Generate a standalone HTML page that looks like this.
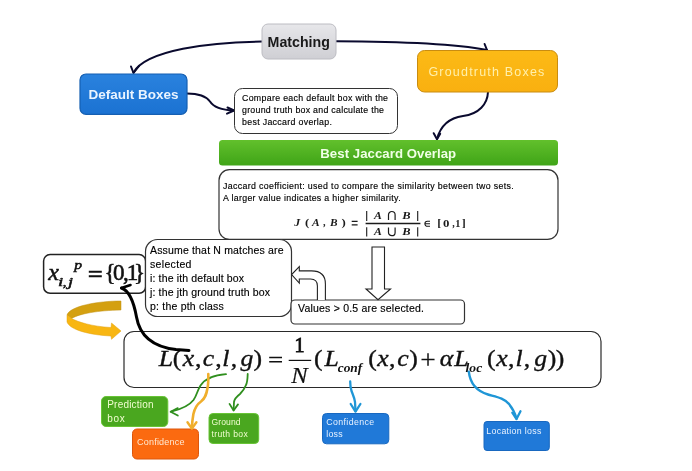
<!DOCTYPE html>
<html><head><meta charset="utf-8">
<style>
html,body{margin:0;padding:0;background:#fff;}
body{width:692px;height:471px;overflow:hidden;font-family:"Liberation Sans",sans-serif;}
svg{display:block}
text{font-family:"Liberation Sans",sans-serif;}
</style></head><body>
<svg width="692" height="471" viewBox="0 0 692 471">
<defs>
<linearGradient id="gGray" x1="0" y1="0" x2="0" y2="1"><stop offset="0" stop-color="#e7e7ea"/><stop offset="1" stop-color="#cfcfd4"/></linearGradient>
<linearGradient id="gGreen" x1="0" y1="0" x2="0" y2="1"><stop offset="0" stop-color="#62c02c"/><stop offset="1" stop-color="#3fa417"/></linearGradient>
<filter id="glow" x="-20%" y="-40%" width="140%" height="180%"><feGaussianBlur stdDeviation="3"/></filter>
<filter id="idf" x="0" y="0" width="692" height="471" filterUnits="userSpaceOnUse"><feOffset dx="0" dy="0"/></filter>
<linearGradient id="gBlue" x1="0" y1="0" x2="0" y2="1"><stop offset="0" stop-color="#2a82de"/><stop offset="1" stop-color="#1b72d2"/></linearGradient>
<linearGradient id="gOr" x1="0" y1="0" x2="0" y2="1"><stop offset="0" stop-color="#fcba16"/><stop offset="1" stop-color="#f9b010"/></linearGradient>
</defs>
<rect width="692" height="471" fill="#ffffff"/>
<g filter="url(#idf)">
<g fill="none" stroke="#0a0a2e" stroke-width="2" stroke-linecap="round" stroke-linejoin="round">
<path d="M262 41.600 C210 42 146 50 133.500 72.500"/>
<path d="M131 66.500 L133.500 73 L139 66"/>
<path d="M336 41.300 C400 41.500 455 44 487 50"/>
<path d="M484.600 44 L487 50"/>
<path d="M187 93.500 C200 93.500 206 96 210 101.500 C214 108 222 110 234 110.500"/>
<path d="M227.500 107.500 L234 110.500 L227 113.600"/>
<path d="M488 92 C487.500 104 479 114 463 116 C452 117.500 441 124 437 139"/>
<path d="M433.700 133.200 L437 139.200 L440.200 133.800"/>
</g>
<rect x="262" y="24" width="74" height="35" rx="6" fill="url(#gGray)" stroke="#bcbcc2" stroke-width="1"/>
<text x="298.700" y="46.500" font-size="14.200" font-weight="bold" text-anchor="middle" fill="#1a1a1a">Matching</text>
<rect x="80" y="74" width="107" height="40.300" rx="6" fill="url(#gBlue)" stroke="#155fb2" stroke-width="1.200"/>
<text x="133.500" y="99" font-size="13.500" font-weight="bold" text-anchor="middle" fill="#eaf4ff">Default Boxes</text>
<rect x="417.500" y="50.500" width="140" height="41.500" rx="7" fill="url(#gOr)" stroke="#c98c10" stroke-width="1"/>
<text x="487" y="76" font-size="12.500" text-anchor="middle" fill="#fff0ac" letter-spacing="1.2">Groudtruth Boxes</text>
<rect x="234.500" y="88.500" width="163" height="45" rx="8" fill="#fff" stroke="#333" stroke-width="1"/>
<text font-size="8.800" fill="#000" stroke="#000" stroke-width="0.150"><tspan x="242" y="101" textLength="146">Compare each default box with the</tspan><tspan x="242" y="113" textLength="142">ground truth box and calculate the</tspan><tspan x="242" y="125" textLength="90">best Jaccard overlap.</tspan></text>
<rect x="219" y="140" width="339" height="25.600" rx="3.500" fill="url(#gGreen)"/>
<text x="320.300" y="158" font-size="13.200" font-weight="bold" textLength="135.800" fill="#f0ffe6">Best Jaccard Overlap</text>
<rect x="219" y="169.700" width="339" height="69.700" rx="10.500" fill="#fff" stroke="#333" stroke-width="1.200"/>
<text font-size="8.800" fill="#000" stroke="#000" stroke-width="0.150"><tspan x="223" y="188.800" textLength="290.800">Jaccard coefficient: used to compare the similarity between two sets.</tspan><tspan x="223" y="200.900" textLength="177.600">A larger value indicates a higher similarity.</tspan></text>
<text transform="translate(294.20 226.30) scale(1.1273 1)" x="-0.00" y="0" style="font-family:Liberation Serif" font-size="10.5" font-style="italic" font-weight="bold" fill="#1a1a1a">J</text>
<text transform="translate(305.60 226.30) scale(1.2190 1)" x="-0.50" y="0" style="font-family:Liberation Serif" font-size="10.5" font-style="normal" font-weight="bold" fill="#1a1a1a">(</text>
<text transform="translate(311.40 226.30) scale(1.0947 1)" x="0.50" y="0" style="font-family:Liberation Serif" font-size="10.5" font-style="italic" font-weight="bold" fill="#1a1a1a">A</text>
<text transform="translate(323.10 226.30) scale(0.9882 1)" x="-0.12" y="0" style="font-family:Liberation Serif" font-size="10.5" font-style="normal" font-weight="bold" fill="#1a1a1a">,</text>
<text transform="translate(329.90 226.30) scale(1.0815 1)" x="0.12" y="0" style="font-family:Liberation Serif" font-size="10.5" font-style="italic" font-weight="bold" fill="#1a1a1a">B</text>
<text transform="translate(342.00 226.30) scale(1.2190 1)" x="-0.38" y="0" style="font-family:Liberation Serif" font-size="10.5" font-style="normal" font-weight="bold" fill="#1a1a1a">)</text>
<text transform="translate(373.50 219.40) scale(1.1228 1)" x="0.50" y="0" style="font-family:Liberation Serif" font-size="10.5" font-style="italic" font-weight="bold" fill="#1a1a1a">A</text>
<text transform="translate(402.10 219.40) scale(1.1852 1)" x="0.12" y="0" style="font-family:Liberation Serif" font-size="10.5" font-style="italic" font-weight="bold" fill="#1a1a1a">B</text>
<text transform="translate(373.50 235.30) scale(1.1228 1)" x="0.50" y="0" style="font-family:Liberation Serif" font-size="10.5" font-style="italic" font-weight="bold" fill="#1a1a1a">A</text>
<text transform="translate(402.10 235.30) scale(1.1852 1)" x="0.12" y="0" style="font-family:Liberation Serif" font-size="10.5" font-style="italic" font-weight="bold" fill="#1a1a1a">B</text>
<text transform="translate(438.20 226.00) scale(1.1789 1)" x="-0.75" y="0" style="font-family:Liberation Serif" font-size="10.5" font-style="normal" font-weight="bold" fill="#1a1a1a">[</text>
<text transform="translate(443.50 226.50) scale(1.2222 1)" x="-0.38" y="0" style="font-family:Liberation Serif" font-size="10.5" font-style="normal" font-weight="bold" fill="#1a1a1a">0</text>
<text transform="translate(452.30 226.50) scale(0.9412 1)" x="-0.12" y="0" style="font-family:Liberation Serif" font-size="10.5" font-style="normal" font-weight="bold" fill="#1a1a1a">,</text>
<text transform="translate(456.00 226.50) scale(0.9806 1)" x="-0.88" y="0" style="font-family:Liberation Serif" font-size="10.5" font-style="normal" font-weight="bold" fill="#1a1a1a">1</text>
<text transform="translate(462.30 226.00) scale(1.1368 1)" x="-0.38" y="0" style="font-family:Liberation Serif" font-size="10.5" font-style="normal" font-weight="bold" fill="#1a1a1a">]</text>
<g fill="none" stroke="#1a1a1a" stroke-width="1.300">
<path d="M351.700 221.400 H357.600 M351.700 224.900 H357.600"/>
<path d="M365.600 223.500 H420.400" stroke-width="1.300"/>
<path d="M366.700 211 V221 M417.700 211 V221 M366.700 227.300 V236.500 M417.700 227.300 V236.500" stroke-width="1.100"/>
<path d="M388.500 220 V214.800 A3.300 3.300 0 0 1 395.100 214.800 V220" stroke-width="1.200"/>
<path d="M388.500 227.500 V232.400 A3.300 3.300 0 0 0 395.100 232.400 V227.500" stroke-width="1.200"/>
<path d="M430 221.300 H427.400 A2.500 2.500 0 0 0 427.400 226.300 H430 M424.900 223.800 H430" stroke-width="1.100"/>
</g>
<rect x="43.600" y="254.600" width="102" height="38.700" rx="6.500" fill="#fff" stroke="#222" stroke-width="1.500"/>
<text transform="translate(47.90 280.10) scale(1.0286 1)" x="0.25" y="0" style="font-family:Liberation Serif" font-size="23.5" font-style="italic" font-weight="normal" fill="#111" stroke="#111" stroke-width="0.5">x</text>
<text transform="translate(58.90 285.90) scale(1.6444 1)" x="-0.62" y="0" style="font-family:Liberation Serif" font-size="11.5" font-style="italic" font-weight="normal" fill="#111" stroke="#111" stroke-width="0.45">i</text>
<text transform="translate(63.30 285.90) scale(1.3143 1)" x="-0.38" y="0" style="font-family:Liberation Serif" font-size="11.5" font-style="italic" font-weight="normal" fill="#111" stroke="#111" stroke-width="0.45">,</text>
<text transform="translate(66.10 285.90) scale(1.5758 1)" x="1.25" y="0" style="font-family:Liberation Serif" font-size="11.5" font-style="italic" font-weight="normal" fill="#111" stroke="#111" stroke-width="0.45">j</text>
<text transform="translate(73.50 269.00) scale(1.3667 1)" x="0.62" y="0" style="font-family:Liberation Serif" font-size="11.5" font-style="italic" font-weight="normal" fill="#111" stroke="#111" stroke-width="0.45">p</text>
<path d="M88.800 271.700 H101.800 M88.800 276.300 H101.800" stroke="#111" stroke-width="1.900" fill="none"/>
<text x="104.47" y="280.00" style="font-family:Liberation Serif" font-size="23" font-style="normal" font-weight="normal" fill="#111" stroke="#111" stroke-width="0.6">{</text>
<text x="113.12" y="280.00" style="font-family:Liberation Serif" font-size="23" font-style="normal" font-weight="normal" fill="#111" stroke="#111" stroke-width="0.6">0</text>
<text x="123.12" y="280.00" style="font-family:Liberation Serif" font-size="23" font-style="normal" font-weight="normal" fill="#111" stroke="#111" stroke-width="0.6">,</text>
<text x="126.80" y="280.00" style="font-family:Liberation Serif" font-size="23" font-style="normal" font-weight="normal" fill="#111" stroke="#111" stroke-width="0.6">1</text>
<text x="133.97" y="280.00" style="font-family:Liberation Serif" font-size="23" font-style="normal" font-weight="normal" fill="#111" stroke="#111" stroke-width="0.6">}</text>
<rect x="145.500" y="239.500" width="146" height="77" rx="12" fill="#fff" stroke="#333" stroke-width="1.200"/>
<text font-size="10.500" fill="#000" stroke="#000" stroke-width="0.150"><tspan x="150" y="254" textLength="133.600">Assume that N matches are</tspan><tspan x="150" y="268" textLength="41.400">selected</tspan><tspan x="150" y="282" textLength="94">i: the ith default box</tspan><tspan x="150" y="296" textLength="120">j: the jth ground truth box</tspan><tspan x="150" y="310" textLength="73.800">p: the pth class</tspan></text>
<rect x="291" y="300" width="173.500" height="24" rx="4" fill="#fff" stroke="#333" stroke-width="1.200"/>
<text x="298" y="311.700" font-size="10.500" fill="#000" stroke="#000" stroke-width="0.150" textLength="126">Values &gt; 0.5 are selected.</text>
<path d="M372 247 H384.500 V289 H390.500 L378 299.700 L366 289 H372 Z" fill="#fff" stroke="#222" stroke-width="1.100"/>
<path d="M317.400 300 V286 Q317.400 279 310.500 279 H299.300 V283.100 L291.600 274.600 L299.300 266.700 V270.900 H311.500 Q325.400 270.900 325.400 284 V300" fill="#fff" stroke="#222" stroke-width="1.100" stroke-linejoin="miter"/>
<path d="M121 301 C98 301 70 306 67 315 L71.600 318.500 C80 313.500 98 310.500 121 310 Z" fill="#d4a010" stroke="#c09010" stroke-width="0.500"/>
<path d="M67 315 L67 322 C70 330 90 335 111 336 L111.500 339.300 L121 331 L111.500 323 L111 327.500 C92 326.500 78 322 71.600 318.500 Z" fill="#f8b612" stroke="#e0a010" stroke-width="0.500"/>
<rect x="124" y="331.500" width="477" height="56" rx="10" fill="#fff" stroke="#2a2a2a" stroke-width="1.200"/>
<text transform="translate(158.40 366.40) scale(1.1200 1)" x="0.25" y="0" style="font-family:Liberation Serif" font-size="23" font-style="italic" font-weight="normal" fill="#111" stroke="#111" stroke-width="0.35">L</text>
<text transform="translate(173.80 366.40) scale(1.1200 1)" x="-1.00" y="0" style="font-family:Liberation Serif" font-size="23" font-style="normal" font-weight="normal" fill="#111" stroke="#111" stroke-width="0.35">(</text>
<text transform="translate(182.50 366.40) scale(1.1200 1)" x="0.25" y="0" style="font-family:Liberation Serif" font-size="23" font-style="italic" font-weight="normal" fill="#111" stroke="#111" stroke-width="0.35">x</text>
<text transform="translate(196.00 366.40) scale(1.1200 1)" x="-0.88" y="0" style="font-family:Liberation Serif" font-size="23" font-style="normal" font-weight="normal" fill="#111" stroke="#111" stroke-width="0.35">,</text>
<text transform="translate(203.50 366.40) scale(1.1200 1)" x="-0.75" y="0" style="font-family:Liberation Serif" font-size="23" font-style="italic" font-weight="normal" fill="#111" stroke="#111" stroke-width="0.35">c</text>
<text transform="translate(216.20 366.40) scale(1.1200 1)" x="-0.88" y="0" style="font-family:Liberation Serif" font-size="23" font-style="normal" font-weight="normal" fill="#111" stroke="#111" stroke-width="0.35">,</text>
<text transform="translate(223.70 366.40) scale(1.1200 1)" x="-1.25" y="0" style="font-family:Liberation Serif" font-size="23" font-style="italic" font-weight="normal" fill="#111" stroke="#111" stroke-width="0.35">l</text>
<text transform="translate(231.60 366.40) scale(1.1200 1)" x="-0.88" y="0" style="font-family:Liberation Serif" font-size="23" font-style="normal" font-weight="normal" fill="#111" stroke="#111" stroke-width="0.35">,</text>
<text transform="translate(240.50 366.40) scale(1.1200 1)" x="-0.00" y="0" style="font-family:Liberation Serif" font-size="23" font-style="italic" font-weight="normal" fill="#111" stroke="#111" stroke-width="0.35">g</text>
<text transform="translate(254.40 366.40) scale(1.1200 1)" x="-0.75" y="0" style="font-family:Liberation Serif" font-size="23" font-style="normal" font-weight="normal" fill="#111" stroke="#111" stroke-width="0.35">)</text>
<text transform="translate(315.00 366.40) scale(1.1200 1)" x="-1.00" y="0" style="font-family:Liberation Serif" font-size="23" font-style="normal" font-weight="normal" fill="#111" stroke="#111" stroke-width="0.35">(</text>
<text transform="translate(324.30 366.40) scale(1.1200 1)" x="0.25" y="0" style="font-family:Liberation Serif" font-size="23" font-style="italic" font-weight="normal" fill="#111" stroke="#111" stroke-width="0.35">L</text>
<text transform="translate(369.40 366.40) scale(1.1200 1)" x="-1.00" y="0" style="font-family:Liberation Serif" font-size="23" font-style="normal" font-weight="normal" fill="#111" stroke="#111" stroke-width="0.35">(</text>
<text transform="translate(377.00 366.40) scale(1.1200 1)" x="0.25" y="0" style="font-family:Liberation Serif" font-size="23" font-style="italic" font-weight="normal" fill="#111" stroke="#111" stroke-width="0.35">x</text>
<text transform="translate(390.00 366.40) scale(1.1200 1)" x="-0.88" y="0" style="font-family:Liberation Serif" font-size="23" font-style="normal" font-weight="normal" fill="#111" stroke="#111" stroke-width="0.35">,</text>
<text transform="translate(398.00 366.40) scale(1.1200 1)" x="-0.75" y="0" style="font-family:Liberation Serif" font-size="23" font-style="italic" font-weight="normal" fill="#111" stroke="#111" stroke-width="0.35">c</text>
<text transform="translate(410.00 366.40) scale(1.1200 1)" x="-0.75" y="0" style="font-family:Liberation Serif" font-size="23" font-style="normal" font-weight="normal" fill="#111" stroke="#111" stroke-width="0.35">)</text>
<text transform="translate(440.50 366.40) scale(1.1200 1)" x="-0.62" y="0" style="font-family:Liberation Serif" font-size="23" font-style="italic" font-weight="normal" fill="#111" stroke="#111" stroke-width="0.35">α</text>
<text transform="translate(454.00 366.40) scale(1.1200 1)" x="0.25" y="0" style="font-family:Liberation Serif" font-size="23" font-style="italic" font-weight="normal" fill="#111" stroke="#111" stroke-width="0.35">L</text>
<text transform="translate(488.00 366.40) scale(1.1200 1)" x="-1.00" y="0" style="font-family:Liberation Serif" font-size="23" font-style="normal" font-weight="normal" fill="#111" stroke="#111" stroke-width="0.35">(</text>
<text transform="translate(495.90 366.40) scale(1.1200 1)" x="0.25" y="0" style="font-family:Liberation Serif" font-size="23" font-style="italic" font-weight="normal" fill="#111" stroke="#111" stroke-width="0.35">x</text>
<text transform="translate(508.90 366.40) scale(1.1200 1)" x="-0.88" y="0" style="font-family:Liberation Serif" font-size="23" font-style="normal" font-weight="normal" fill="#111" stroke="#111" stroke-width="0.35">,</text>
<text transform="translate(516.80 366.40) scale(1.1200 1)" x="-1.25" y="0" style="font-family:Liberation Serif" font-size="23" font-style="italic" font-weight="normal" fill="#111" stroke="#111" stroke-width="0.35">l</text>
<text transform="translate(524.80 366.40) scale(1.1200 1)" x="-0.88" y="0" style="font-family:Liberation Serif" font-size="23" font-style="normal" font-weight="normal" fill="#111" stroke="#111" stroke-width="0.35">,</text>
<text transform="translate(534.20 366.40) scale(1.1200 1)" x="-0.00" y="0" style="font-family:Liberation Serif" font-size="23" font-style="italic" font-weight="normal" fill="#111" stroke="#111" stroke-width="0.35">g</text>
<text transform="translate(548.60 366.40) scale(1.1200 1)" x="-0.75" y="0" style="font-family:Liberation Serif" font-size="23" font-style="normal" font-weight="normal" fill="#111" stroke="#111" stroke-width="0.35">)</text>
<text transform="translate(556.50 366.40) scale(1.1200 1)" x="-0.75" y="0" style="font-family:Liberation Serif" font-size="23" font-style="normal" font-weight="normal" fill="#111" stroke="#111" stroke-width="0.35">)</text>
<text x="420.32" y="369.19" style="font-family:Liberation Serif" font-size="27.5" font-style="normal" font-weight="normal" fill="#111" stroke="#111" stroke-width="0.2">+</text>
<text transform="translate(296.20 352.30) scale(0.9143 1)" x="-1.88" y="0" style="font-family:Liberation Serif" font-size="22" font-style="normal" font-weight="normal" fill="#111" stroke="#111" stroke-width="0.9">1</text>
<text transform="translate(291.00 383.00) scale(1.0915 1)" x="0.12" y="0" style="font-family:Liberation Serif" font-size="22.5" font-style="italic" font-weight="normal" fill="#111" stroke="#111" stroke-width="0.2">N</text>
<text transform="translate(337.80 371.50) scale(0.9942 1)" x="-0.12" y="0" style="font-family:Liberation Serif" font-size="13.5" font-style="italic" font-weight="bold" fill="#111">conf</text>
<text transform="translate(465.80 371.50) scale(1.0125 1)" x="-0.25" y="0" style="font-family:Liberation Serif" font-size="13.5" font-style="italic" font-weight="bold" fill="#111">loc</text>
<path d="M269.200 357.400 H282 M269.200 361.800 H282" stroke="#111" stroke-width="1.500" fill="none"/>
<path d="M288.700 360.400 H311.200" stroke="#111" stroke-width="1.200" fill="none"/>
<path d="M121.500 288 C130 291 134 303 136.500 317 C139.300 333.500 150 346.500 176 349.600 L189 350.500" fill="none" stroke="#000" stroke-width="3" stroke-linecap="round"/>
<path d="M121.500 288 L130.500 285" fill="none" stroke="#000" stroke-width="2.600" stroke-linecap="round"/>
<rect x="101.500" y="396.500" width="66.300" height="30" rx="4.500" fill="#4aa71f" stroke="#68c436" stroke-width="1"/>
<text font-size="10" fill="#f0fdd0"><tspan x="107.200" y="407.500" textLength="46.400">Prediction</tspan><tspan x="107.200" y="421.500" textLength="17.600">box</tspan></text>
<rect x="132.500" y="429" width="66" height="30" rx="4.500" fill="#fb6a10" stroke="#dc560c" stroke-width="1"/>
<text x="137" y="444.900" font-size="9" fill="#ffe9d2" textLength="47.500">Confidence</text>
<rect x="209" y="413.500" width="49.700" height="30" rx="4" fill="#4aa71f" stroke="#68c436" stroke-width="1"/>
<text font-size="8.600" fill="#f0fdd0"><tspan x="211.500" y="424.500" textLength="29">Ground</tspan><tspan x="211.500" y="436.500" textLength="36.200">truth box</tspan></text>
<rect x="322.500" y="413.500" width="66.300" height="30.300" rx="4" fill="#2079d8" stroke="#1868c0" stroke-width="1"/>
<text font-size="8.800" fill="#e8f2ff"><tspan x="326.200" y="424.700" textLength="48">Confidence</tspan><tspan x="326.200" y="436.600" textLength="16.400">loss</tspan></text>
<rect x="484" y="421.500" width="65.300" height="29" rx="3" fill="#2079d8" stroke="#1868c0" stroke-width="1"/>
<text x="486.300" y="433.800" font-size="8.800" fill="#e8f2ff" textLength="55">Location loss</text>
<g fill="none" stroke-linecap="round" stroke-linejoin="round">
<path d="M226 374.200 C215 375 205 379 200.500 385.500 C197 391 197 395 193.500 400 C189 406 180 409.500 171 411.700" stroke="#2f8f1e" stroke-width="1.800"/>
<path d="M177.800 408.100 L170.600 411.800 L177.800 415.500" stroke="#2f8f1e" stroke-width="1.800"/>
<path d="M208.300 374 C208.300 380 208.500 384 207.500 388 C206.500 394 205.500 398 201 401.500 C196 405 194.500 409 193.400 414 C192.500 419 192 424 191.900 428" stroke="#f0ae2c" stroke-width="2.600"/>
<path d="M187.500 422.200 L191.900 428.600 L196.400 422.200" stroke="#f0ae2c" stroke-width="2.400"/>
<path d="M247.700 374 C247.500 380 247.500 382 246 385 C244.500 389 243 391 240 394 C236 397 234.500 399 234 402 L233.600 410" stroke="#2f8f1e" stroke-width="1.800"/>
<path d="M229.500 403.900 L233.600 410.500 L238 404.400" stroke="#2f8f1e" stroke-width="1.800"/>
<path d="M350.200 381.500 C350.200 386 350.500 388 351.500 391 C353 395 354.500 398 355 402 L355.500 411" stroke="#1f96d6" stroke-width="2.300"/>
<path d="M350.700 404 L355.500 411.600 L360.400 404" stroke="#1f96d6" stroke-width="2.300"/>
<path d="M468.800 371.700 C470 382 476 391 488 394.500 C497 397 504 398 509 404 C513 409 515 413 516.500 418.500" stroke="#1f96d6" stroke-width="2.400"/>
<path d="M512.300 412.700 L516.500 419 L520.500 411.200" stroke="#1f96d6" stroke-width="2.300"/>
</g>
</g>
</svg>
</body></html>
